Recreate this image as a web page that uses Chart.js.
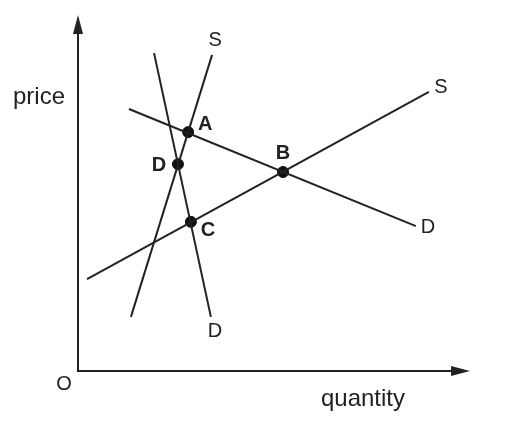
<!DOCTYPE html>
<html>
<head>
<meta charset="utf-8">
<script src="https://cdn.jsdelivr.net/npm/chart.js@4.4.1/dist/chart.umd.min.js"></script>
<style>
  body { margin: 0; background: #fff; }
  canvas { display: block; }
</style>
</head>
<body>
<canvas id="supplyDemandChart" width="508" height="427"></canvas>
<script>
// Curves (quantity, price), axis runs 0..100 both ways
const steepSupply = [{ x: 13.5, y: 15.2 }, { x: 34.2, y: 88.8 }];
const steepDemand = [{ x: 19.4, y: 89.3 }, { x: 33.9, y: 15.2 }];
const flatSupply = [{ x: 2.3, y: 25.8 }, { x: 89.5, y: 78.4 }];
const flatDemand = [{ x: 13.0, y: 73.6 }, { x: 86.2, y: 40.7 }];

// Equilibrium points
const pointNames = ['A', 'B', 'C', 'D'];
const pointX = [28.1, 52.3, 28.8, 25.5];
const pointY = [67.1, 55.9, 41.9, 58.1];

// Curve end labels
const curveNames = ['S', 'D', 'S', 'D'];
const axisTitles = { x: 'quantity', y: 'price', origin: 'O' };

const ink = '#222222';
const font = '"Liberation Sans", Arial, sans-serif';

// Draw the axes, arrows and all text labels on top of the chart
const diagramPlugin = {
    id: 'diagram',
    afterDatasetsDraw(chart) {
        const ctx = chart.ctx;
        const xs = chart.scales.x, ys = chart.scales.y;
        const x0 = xs.getPixelForValue(0), y0 = ys.getPixelForValue(0);
        const xEnd = xs.getPixelForValue(100), yEnd = ys.getPixelForValue(100);

        ctx.save();
        ctx.strokeStyle = ink;
        ctx.fillStyle = ink;
        ctx.lineWidth = 2;
        ctx.beginPath();
        ctx.moveTo(x0, yEnd + 16);
        ctx.lineTo(x0, y0);
        ctx.lineTo(xEnd - 16, y0);
        ctx.stroke();

        // arrow heads
        ctx.beginPath();
        ctx.moveTo(x0, yEnd);
        ctx.lineTo(x0 - 5, yEnd + 19);
        ctx.lineTo(x0 + 5, yEnd + 19);
        ctx.closePath();
        ctx.fill();
        ctx.beginPath();
        ctx.moveTo(xEnd, y0);
        ctx.lineTo(xEnd - 19, y0 - 5);
        ctx.lineTo(xEnd - 19, y0 + 5);
        ctx.closePath();
        ctx.fill();

        ctx.textAlign = 'center';
        ctx.textBaseline = 'middle';
        ctx.font = '24px ' + font;
        ctx.fillText(axisTitles.y, x0 - 39, ys.getPixelForValue(76.8));
        ctx.fillText(axisTitles.x, xs.getPixelForValue(72.7), y0 + 28);
        ctx.font = '20px ' + font;
        ctx.fillText(axisTitles.origin, x0 - 14, y0 + 13);

        // curve end labels, placed just beyond the upper/right end of each line
        const curves = [steepSupply, steepDemand, flatSupply, flatDemand];
        const labelOffsets = [[3, -14], [4, 15], [12, -4], [12, 1]];
        curves.forEach((c, i) => {
            const end = i === 1 ? c[1] : c[c.length - 1];
            const px = xs.getPixelForValue(end.x) + labelOffsets[i][0];
            const py = ys.getPixelForValue(end.y) + labelOffsets[i][1];
            ctx.fillText(curveNames[i], px, py);
        });

        // point labels
        ctx.font = 'bold 20px ' + font;
        const pointOffsets = [[17, -8], [0, -19], [17, 9], [-19, 1]];
        pointNames.forEach((n, i) => {
            ctx.fillText(n, xs.getPixelForValue(pointX[i]) + pointOffsets[i][0],
                ys.getPixelForValue(pointY[i]) + pointOffsets[i][1]);
        });
        ctx.restore();
    }
};

function curveDataset(data) {
    return {
        type: 'line',
        data: data,
        borderColor: ink,
        borderWidth: 2,
        pointRadius: 0,
        fill: false,
        tension: 0
    };
}

new Chart(document.getElementById('supplyDemandChart'), {
    type: 'scatter',
    data: {
        datasets: [
            curveDataset(steepSupply),
            curveDataset(steepDemand),
            curveDataset(flatSupply),
            curveDataset(flatDemand),
            {
                type: 'scatter',
                data: pointX.map((x, i) => ({ x: x, y: pointY[i] })),
                backgroundColor: '#111',
                borderColor: '#111',
                pointRadius: 5.5,
                pointHoverRadius: 5.5
            }
        ]
    },
    options: {
        responsive: false,
        animation: false,
        events: [],
        layout: { padding: { left: 78, right: 38, top: 15, bottom: 56 } },
        plugins: { legend: { display: false }, tooltip: { enabled: false } },
        scales: {
            x: { type: 'linear', min: 0, max: 100, display: false },
            y: { type: 'linear', min: 0, max: 100, display: false }
        }
    },
    plugins: [diagramPlugin]
});
</script>
</body>
</html>
